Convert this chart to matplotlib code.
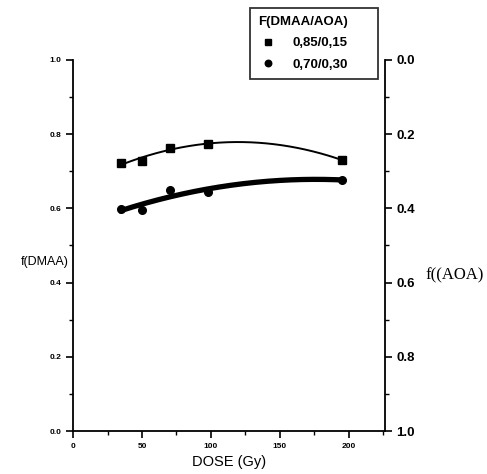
import numpy as np
import matplotlib
matplotlib.use("Agg")
import matplotlib.pyplot as plt
from matplotlib.ticker import MultipleLocator

# data
dose = [35, 50, 70, 98, 195]
f_dmaa_085 = [0.722, 0.728, 0.763, 0.774, 0.730]
f_dmaa_070 = [0.598, 0.596, 0.650, 0.644, 0.677]
legend_title = "F(DMAA/AOA)"
labels = ["0,85/0,15", "0,70/0,30"]

plt.rcParams.update({"font.family": "Liberation Sans", "font.weight": "bold"})

fig = plt.figure(figsize=(4.87, 4.74), dpi=100)
ax = fig.add_axes([0.150, 0.0907, 0.640, 0.783])

xs = np.linspace(min(dose), max(dose), 200)
for y, mk, lw, lab in [(f_dmaa_085, "s", 1.4, labels[0]), (f_dmaa_070, "o", 3.8, labels[1])]:
    c = np.polyfit(dose, y, 2)
    ax.plot(xs, np.polyval(c, xs), color="black", lw=lw)
    ax.plot(dose, y, ls="none", marker=mk, ms=5.5, color="black", label=lab)

ax.set_xlim(0, 226); ax.set_ylim(0, 1.0)
ax.xaxis.set_major_locator(MultipleLocator(50)); ax.xaxis.set_minor_locator(MultipleLocator(25))
ax.yaxis.set_major_locator(MultipleLocator(0.2)); ax.yaxis.set_minor_locator(MultipleLocator(0.1))
for s in ["top", "right"]: ax.spines[s].set_visible(False)
ax.spines["left"].set_linewidth(1.3); ax.spines["bottom"].set_linewidth(1.3)
ax.tick_params(which="major", length=5, width=1.2, labelsize=6)
ax.tick_params(which="minor", length=3, width=1.0)
ax.set_yticklabels([f"{v:.1f}" for v in ax.get_yticks()])
ax.set_xlabel("DOSE (Gy)", fontsize=10.5, labelpad=4)
ax.set_ylabel("f(DMAA)", fontsize=9, rotation=0, labelpad=0)
ax.yaxis.set_label_coords(-0.09, 0.44)

ax2 = ax.twinx()
ax2.set_ylim(1.0, 0.0)
ax2.yaxis.set_major_locator(MultipleLocator(0.2)); ax2.yaxis.set_minor_locator(MultipleLocator(0.1))
for s in ["top", "left", "bottom"]: ax2.spines[s].set_visible(False)
ax2.spines["right"].set_linewidth(1.3)
ax2.tick_params(which="major", length=5, width=1.2, labelsize=9.5)
ax2.tick_params(which="minor", length=3, width=1.0)
ax2.set_yticklabels([f"{v:.1f}" for v in ax2.get_yticks()])
ax2.set_ylabel("f((AOA)", fontsize=12, rotation=0, family="Liberation Serif", weight="normal", labelpad=0)
ax2.yaxis.set_label_coords(1.225, 0.44)

leg = fig.legend(loc="upper left", bbox_to_anchor=(250/487, 1-80/474, 128/487, 72/474), mode="expand",
                 title=legend_title, fontsize=9.5, title_fontsize=9.5, frameon=True, fancybox=False,
                 edgecolor="black", handlelength=1.6, handletextpad=1.0, borderpad=0.6, labelspacing=0.7,
                 borderaxespad=0, markerscale=0.85)
leg.get_frame().set_linewidth(1.3)
leg.get_title().set_fontweight("bold")
leg._legend_box.align = "left"

fig.savefig("out.png", dpi=100)
